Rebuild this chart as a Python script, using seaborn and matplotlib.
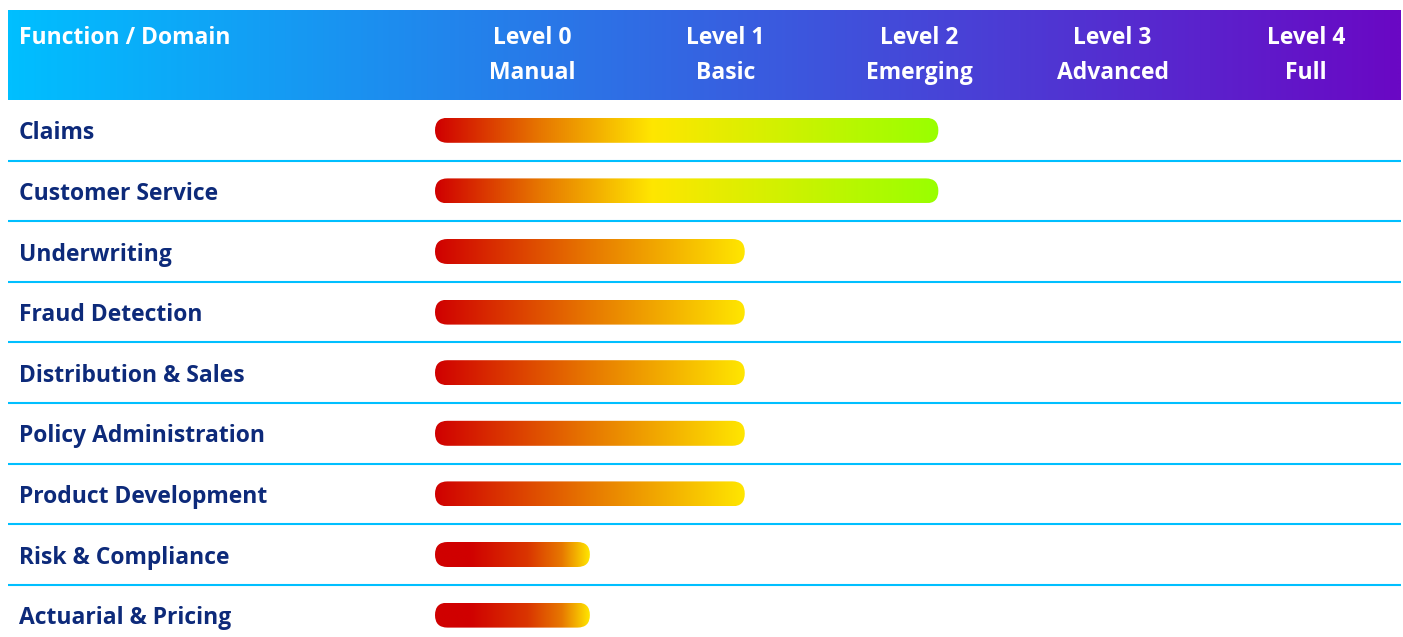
import numpy as np
import pandas as pd
import matplotlib.pyplot as plt
import seaborn as sns
from matplotlib.patches import FancyBboxPatch
from matplotlib.colors import LinearSegmentedColormap

# data
functions = ["Claims", "Customer Service", "Underwriting", "Fraud Detection",
             "Distribution & Sales", "Policy Administration", "Product Development",
             "Risk & Compliance", "Actuarial & Pricing"]
maturity = [2.6, 2.6, 1.6, 1.6, 1.6, 1.6, 1.6, 0.8, 0.8]
level_names = ["Level 0", "Level 1", "Level 2", "Level 3", "Level 4"]
level_labels = ["Manual", "Basic", "Emerging", "Advanced", "Full"]
corner_title = "Function / Domain"

# layout (pixels of the 1403x637 canvas)
W, H = 1403, 637
LEFT, RIGHT = 8, 1401
HDR_TOP, HDR_BOT = 10, 100
ROW_H = 60.6
BAR_H = 25
ZERO_X = 435
COL_W = 193.6
LABEL_X = 19
FS = 16.5

NAVY = "#0d2a7a"
CYAN = "#00bfff"
RED, ORANGE, YELLOW, GREEN = "#d00000", "#e77800", "#ffe600", "#99ff00"


def gradient_stops(value):
    # bars get a different ramp depending on how far they reach
    if value >= 2:
        return [(0, RED), (0.21, ORANGE), (0.43, YELLOW), (1, GREEN)]
    if value >= 1:
        return [(0, RED), (0.5, ORANGE), (1, YELLOW)]
    return [(0, RED), (0.22, RED), (0.6, "#da3600"), (0.82, ORANGE), (1, YELLOW)]


sns.set_theme(style="white")
plt.rcParams["font.family"] = ["Open Sans", "DejaVu Sans"]

fig = plt.figure(figsize=(W / 100, H / 100), dpi=100)
fig.patch.set_facecolor("white")

n = len(functions)
xlim = ((LEFT - ZERO_X) / COL_W, (RIGHT - ZERO_X) / COL_W)
table_bottom = HDR_BOT + n * ROW_H
ax = fig.add_axes([LEFT / W, 1 - table_bottom / H, (RIGHT - LEFT) / W, n * ROW_H / H])

df = pd.DataFrame({"function": functions, "maturity": maturity})
sns.barplot(data=df, x="maturity", y="function", orient="h", width=BAR_H / ROW_H,
            color=RED, ax=ax)

# swap flat bars for rounded gradient pills
for bar, val in zip(list(ax.patches), maturity):
    x0, y0, w, h = bar.get_x(), bar.get_y(), bar.get_width(), bar.get_height()
    bar.set_visible(False)
    r = h * ROW_H / (2 * COL_W)
    pill = FancyBboxPatch((x0, y0), w, h, boxstyle=f"round,pad=0,rounding_size={r}",
                          mutation_aspect=COL_W / ROW_H, fc="none", ec="none")
    ax.add_patch(pill)
    cmap = LinearSegmentedColormap.from_list("bar", gradient_stops(val))
    grad = cmap(np.linspace(0, 1, 512))[None, :, :]
    im = ax.imshow(grad, extent=(x0, x0 + w, y0 + h, y0), aspect="auto",
                   interpolation="bilinear", zorder=3)
    im.set_clip_path(pill)

for i in range(n - 1):
    ax.axhline(i + 0.5, color=CYAN, lw=1.5, zorder=2)

for i, name in enumerate(functions):
    ax.text((LABEL_X - LEFT) / (RIGHT - LEFT), i + 0.15, name, transform=ax.get_yaxis_transform(),
            ha="left", va="baseline", fontsize=FS, fontweight="bold", color=NAVY)

ax.set_xlim(xlim)
ax.set_ylim(n - 0.5, -0.5)
ax.axis("off")

# header band
hdr = fig.add_axes([LEFT / W, 1 - HDR_BOT / H, (RIGHT - LEFT) / W, (HDR_BOT - HDR_TOP) / H])
hcmap = LinearSegmentedColormap.from_list("hdr", ["#00bfff", "#6a08c4"])
hdr.imshow(hcmap(np.linspace(0, 1, 512))[None, :, :], extent=(xlim[0], xlim[1], 0, 1),
           aspect="auto", interpolation="bilinear")
hdr.set_xlim(xlim)
hdr.set_ylim(0, 1)
hdr.axis("off")

hdr.text((LABEL_X - LEFT) / (RIGHT - LEFT), 0.62, corner_title, transform=hdr.transAxes,
         ha="left", va="baseline", fontsize=FS, fontweight="bold", color="white")
for i, (top, bottom) in enumerate(zip(level_names, level_labels)):
    hdr.text(i + 0.5, 0.62, top, ha="center", va="baseline", fontsize=FS,
             fontweight="bold", color="white")
    hdr.text(i + 0.5, 0.235, bottom, ha="center", va="baseline", fontsize=FS,
             fontweight="bold", color="white")

fig.savefig("out.png", dpi=100)
